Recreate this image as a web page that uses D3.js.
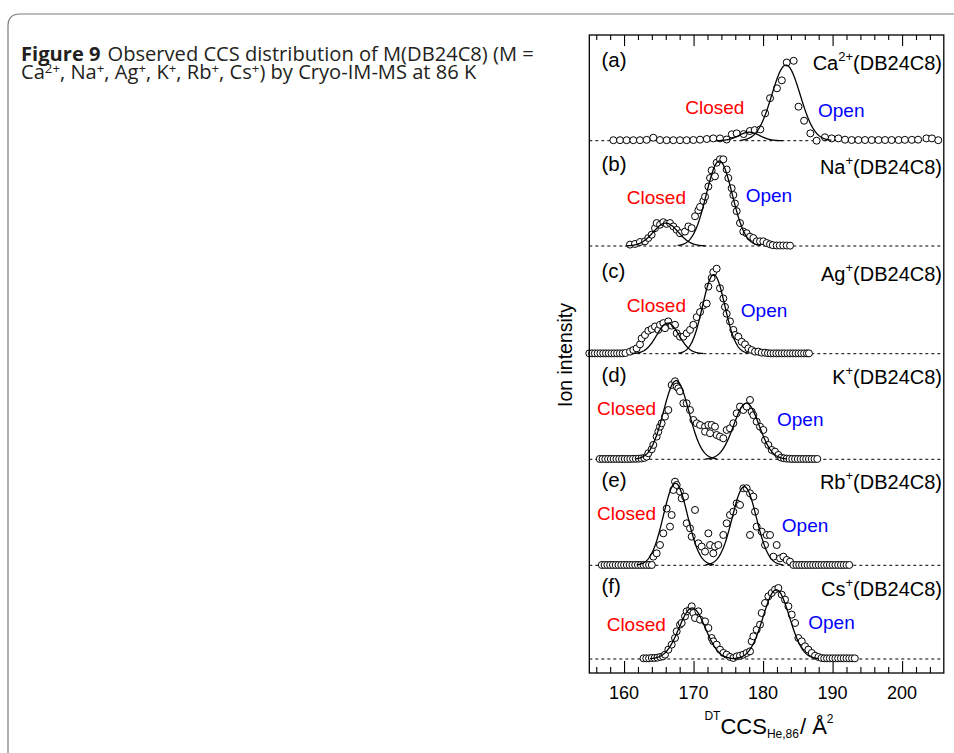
<!DOCTYPE html>
<html><head><meta charset="utf-8">
<script src="https://cdn.jsdelivr.net/npm/d3@7"></script>
<style>body{margin:0;background:#fff;} svg{display:block;}</style>
</head><body>
<svg id="chart" width="954" height="753"></svg>
<script>
// ---------------- data ----------------
const panelLetters = ["(a)","(b)","(c)","(d)","(e)","(f)"];
const ionNames = ["Ca","Na","Ag","K","Rb","Cs"];
const ionCharges = ["2+","+","+","+","+","+"];
const ccsTicks = [160,170,180,190,200];
const ccsMinorTicks = [156,158,162,164,166,168,172,174,176,178,182,184,186,188,192,194,196,198,202,204];
// Gaussian fit components: [centre CCS, height, sigma]
const closedFits = [[178.0,0.10,1.5],[166.0,0.27,1.8],[166.3,0.36,1.6],[167.5,0.925,1.83],[167.4,0.965,1.74],[169.8,0.60,1.9]];
const openFits   = [[183.3,0.89,2.04],[173.7,1.00,1.87],[172.9,0.93,1.6],[177.6,0.66,1.83],[177.3,0.925,1.74],[181.9,0.815,1.9]];
// annotation anchors in data units [CCS, intensity]
const closedLabelAt = [[168.8,0.32],[160.4,0.49],[160.4,0.487],[156.1,0.52],[156.1,0.533],[157.5,0.33]];
const openLabelAt   = [[187.9,0.275],[177.5,0.52],[176.8,0.435],[182.0,0.39],[182.7,0.395],[186.5,0.35]];

// observed points [CCS, normalised intensity]
const dataA = [[158.46,0.006],[159.42,0.006],[160.37,0.006],[161.33,0.006],[162.29,0.006],[163.25,0.01],[164.21,0.035],[165.17,0.008],[166.13,0.006],[167.09,0.006],[168.05,0.006],[169.0,0.006],[169.97,0.008],[170.93,0.012],[171.9,0.02],[172.84,0.027],[173.8,0.027],[174.76,0.014],
[175.5,0.075],[176.2,0.086],[177.2,0.078],[178.1,0.114],[178.8,0.125],[179.6,0.133],[180.3,0.322],[181.0,0.5],[182.0,0.616],[182.7,0.71],[183.4,0.92],[184.4,0.94],[185.1,0.4],[185.9,0.235],[186.8,0.086],[187.7,0.0],
[188.9,0.04],[189.87,0.027],[190.83,0.027],[191.79,0.012],[192.75,0.008],[193.71,0.008],[194.67,0.008],[195.63,0.008],[196.6,0.008],[197.55,0.008],[198.5,0.008],[199.5,0.008],[200.4,0.01],[201.4,0.01],[202.3,0.012],[203.5,0.027],[204.3,0.027],[205.2,0.006]];

const dataB = [[160.85,0.016],[161.57,0.024],[162.29,0.047],[163.01,0.055],[163.49,0.094],[163.97,0.133],[164.45,0.21],[164.69,0.27],[165.17,0.25],[165.65,0.28],[166.13,0.26],[166.61,0.27],[167.09,0.23],[167.57,0.19],[168.05,0.15],[168.77,0.17],[169.25,0.23],[169.73,0.21],[170.21,0.35],[170.69,0.42],[170.93,0.46],[171.41,0.53],[171.65,0.58],[172.13,0.70],[172.37,0.80],[172.6,0.89],[173.08,0.82],[173.32,0.98],[173.8,1.02],[174.28,1.02],[174.76,0.90],[175.0,0.80],[175.48,0.68],[175.72,0.60],[175.96,0.50],[176.2,0.41],[176.68,0.27],[177.16,0.17],[177.64,0.15],[178.12,0.11],[178.6,0.094],[179.08,0.055],[179.56,0.055],[180.04,0.055],[180.52,0.035],[181.0,0.02],[181.4,0.01],[181.96,0.006],[182.4,0.006],[182.9,0.006],[183.4,0.006],[183.88,0.004]];

const dataC = [[155.0,0.004],[155.4,0.004],[155.8,0.004],[156.2,0.004],[156.6,0.004],[157.0,0.004],[157.4,0.004],[157.8,0.004],[158.2,0.004],[158.6,0.004],[159.0,0.004],[159.4,0.004],[159.8,0.004],[160.2,0.008],
[160.85,0.024],[161.33,0.043],[161.81,0.063],[162.29,0.11],[162.53,0.18],[163.01,0.22],[163.49,0.27],[163.97,0.29],[164.45,0.32],[164.93,0.28],[165.17,0.34],[165.65,0.36],[165.89,0.30],[166.37,0.38],[166.85,0.33],[167.33,0.34],[167.57,0.24],[168.05,0.20],[168.53,0.20],[169.01,0.24],[169.49,0.28],[169.97,0.34],[170.45,0.43],[170.93,0.49],[171.41,0.57],[171.89,0.59],[172.13,0.79],[172.6,0.89],[172.84,0.96],[173.32,1.0],[173.8,0.77],[174.28,0.65],[174.52,0.55],[174.76,0.47],[175.24,0.38],[175.72,0.28],[175.96,0.22],[176.44,0.20],[176.92,0.14],[177.4,0.11],[177.88,0.063],[178.36,0.043],[178.84,0.024],[179.32,0.024],[179.8,0.012],[180.28,0.012],
[180.7,0.006],[181.1,0.004],[181.5,0.004],[181.9,0.004],[182.3,0.004],[182.7,0.004],[183.1,0.004],[183.5,0.004],[183.9,0.004],[184.3,0.004],[184.7,0.004],[185.1,0.004],[185.5,0.004],[185.9,0.004],[186.3,0.004],[186.6,0.004]];

const dataD = [[156.5,0.004],[156.9,0.004],[157.3,0.004],[157.7,0.004],[158.1,0.004],[158.5,0.004],[158.9,0.004],[159.3,0.004],[159.7,0.004],[160.1,0.004],[160.5,0.004],[160.9,0.004],[161.3,0.006],[161.7,0.006],[162.1,0.008],[162.5,0.01],[162.9,0.016],
[163.25,0.031],[163.49,0.071],[163.97,0.118],[164.21,0.169],[164.69,0.267],[164.93,0.325],[165.17,0.384],[165.41,0.424],[165.89,0.502],[166.37,0.58],[166.85,0.875],[167.33,0.918],[167.57,0.855],[167.81,0.835],[168.05,0.8],[168.53,0.659],[169.01,0.659],[169.49,0.58],[169.97,0.463],[170.45,0.424],[170.93,0.404],[171.65,0.384],[172.13,0.404],[172.6,0.404],[173.08,0.384],[171.65,0.325],[172.37,0.306],[173.32,0.286],[173.8,0.267],[174.28,0.247],[174.76,0.345],[175.24,0.365],[175.72,0.424],[176.2,0.541],[176.68,0.62],[177.16,0.58],[177.64,0.62],[178.12,0.698],[178.36,0.56],[178.6,0.52],[179.08,0.443],[179.56,0.384],[180.04,0.345],[180.28,0.227],[180.76,0.169],[181.24,0.11],[181.72,0.09],[182.2,0.051],
[182.6,0.02],[183.0,0.012],[183.4,0.008],[183.8,0.006],[184.2,0.004],[184.6,0.004],[185.0,0.004],[185.4,0.004],[185.8,0.004],[186.2,0.004],[186.6,0.004],[187.0,0.004],[187.4,0.004],[187.8,0.004]];

const dataE = [[156.8,0.004],[157.2,0.004],[157.6,0.004],[158.0,0.004],[158.4,0.004],[158.8,0.004],[159.2,0.004],[159.6,0.004],[160.0,0.004],[160.4,0.004],[160.8,0.004],[161.2,0.004],[161.6,0.004],[162.0,0.004],[162.4,0.004],[162.8,0.004],[163.2,0.004],[163.6,0.004],[164.0,0.004],
[164.21,0.102],[164.69,0.141],[165.17,0.239],[165.65,0.376],[166.13,0.667],[166.61,0.455],[166.85,0.592],[167.09,0.886],[167.33,0.984],[167.57,0.945],[168.05,0.867],[168.29,0.788],[168.77,0.808],[169.01,0.494],[169.49,0.435],[169.73,0.337],[170.21,0.651],[170.69,0.259],[171.17,0.22],[171.65,0.161],[172.13,0.376],[172.37,0.239],[172.84,0.141],[173.08,0.22],[173.56,0.239],[174.28,0.357],[174.76,0.494],[175.24,0.592],[175.72,0.631],[176.2,0.729],[176.68,0.71],[177.16,0.906],[177.64,0.906],[178.12,0.847],[178.6,0.808],[178.84,0.631],[178.12,0.357],[179.08,0.455],[179.8,0.396],[180.28,0.239],[180.52,0.357],[181.0,0.357],[181.48,0.102],[181.96,0.239],[182.44,0.082],[182.92,0.102],[183.4,0.063],[183.88,0.043],[184.36,0.004],
[184.8,0.004],[185.2,0.004],[185.6,0.004],[186.0,0.004],[186.4,0.004],[186.8,0.004],[187.2,0.004],[187.6,0.004],[188.0,0.004],[188.4,0.004],[188.8,0.004],[189.2,0.004],[189.6,0.004],[190.0,0.004],[190.4,0.004],[190.8,0.004],[191.2,0.004],[191.6,0.004],[192.0,0.004],[192.4,0.004]];

const dataF = [[162.8,0.008],[163.2,0.008],[163.6,0.008],[164.0,0.012],[164.4,0.012],[164.8,0.016],[165.2,0.024],[165.6,0.031],
[165.89,0.051],[166.37,0.11],[166.85,0.169],[167.33,0.247],[167.57,0.325],[168.05,0.404],[168.29,0.424],[168.77,0.502],[169.01,0.561],[169.49,0.58],[169.73,0.62],[169.97,0.541],[170.21,0.482],[170.69,0.561],[170.93,0.463],[171.65,0.443],[172.13,0.365],[172.6,0.247],[172.84,0.208],[173.32,0.169],[173.8,0.11],[174.28,0.071],[174.76,0.051],[175.24,0.024],[175.72,0.012],[176.2,0.031],[176.68,0.039],[177.16,0.051],[177.64,0.071],[178.12,0.09],[178.36,0.208],[178.6,0.267],[179.08,0.345],[179.56,0.404],[179.8,0.541],[180.28,0.659],[180.76,0.737],[181.24,0.776],[181.72,0.816],[182.2,0.835],[182.68,0.757],[183.16,0.698],[183.64,0.62],[184.12,0.522],[184.6,0.424],[185.08,0.247],[185.56,0.208],[186.04,0.149],[186.52,0.11],[187.0,0.071],[187.48,0.039],[187.96,0.024],
[188.4,0.012],[188.8,0.008],[189.2,0.008],[189.6,0.008],[190.0,0.008],[190.4,0.008],[190.8,0.008],[191.2,0.008],[191.6,0.008],[192.0,0.008],[192.4,0.008],[192.8,0.008],[193.2,0.008]];

const panelData = [dataA, dataB, dataC, dataD, dataE, dataF];

// ---------------- layout ----------------
const plot = {left: 589.3, right: 943.8, top: 35, bottom: 673};
const baseY = [140.7, 246, 353.7, 459.3, 565.3, 659];  // pixel y of zero intensity per panel
const unitPx = 85;                                       // pixels per unit intensity
const letterY = [67, 171, 278.3, 381.7, 486.7, 593.3];
const FONT = "'Liberation Sans', Arial, sans-serif";

const svg = d3.select("#chart");

// outer figure frame
svg.append("path")
  .attr("d", "M8,760 L8,26 Q8,14 20,14 L970,14")
  .attr("fill", "none").attr("stroke", "#7a7a7a").attr("stroke-width", 1.2);

// caption
const cap = svg.append("g").attr("font-family", "'Open Sans', 'Noto Sans', sans-serif").attr("fill", "#231f20");
const line1 = cap.append("text").attr("x", 21).attr("y", 60.5).attr("font-size", 15);
line1.append("tspan").attr("font-weight", "bold").text("Figure 9");
line1.append("tspan").attr("dx", 7).text("Observed CCS distribution of M(DB24C8) (M =");
const line2 = cap.append("text").attr("x", 21).attr("y", 78.5).attr("font-size", 15);
const capParts = ["Ca", ", Na", ", Ag", ", K", ", Rb", ", Cs"];
const capSups = ["2+", "+", "+", "+", "+", "+"];
capParts.forEach((t, k) => {
  line2.append("tspan").attr("dy", k === 0 ? 0 : 5.5).text(t);
  line2.append("tspan").attr("dy", -5.5).attr("font-size", "0.66em").text(capSups[k]);
});
line2.append("tspan").attr("dy", 5.5).text(") by Cryo-IM-MS at 86 K");
// fit caption width to reference
const w1 = line1.node().getComputedTextLength();
const fs = 15 * 506 / w1;
line1.attr("font-size", fs);
line2.attr("font-size", fs);

// scales
const x = d3.scaleLinear().domain([155, 206]).range([plot.left, plot.right]);
const yScales = baseY.map(b => d3.scaleLinear().domain([0, 1]).range([b, b - unitPx]));

// axes ticks (inward)
const gAx = svg.append("g").attr("stroke-width", 1);
gAx.append("g").attr("transform", `translate(0,${plot.bottom})`)
  .call(d3.axisBottom(x).tickValues(ccsTicks).tickSize(-12).tickSizeOuter(0).tickFormat(""));
gAx.append("g").attr("transform", `translate(0,${plot.bottom})`)
  .call(d3.axisBottom(x).tickValues(ccsMinorTicks).tickSize(-6).tickSizeOuter(0).tickFormat(""));
gAx.append("g").attr("transform", `translate(0,${plot.top})`)
  .call(d3.axisTop(x).tickValues(ccsTicks).tickSize(-11).tickSizeOuter(0).tickFormat(""));
gAx.append("g").attr("transform", `translate(0,${plot.top})`)
  .call(d3.axisTop(x).tickValues(ccsMinorTicks).tickSize(-5).tickSizeOuter(0).tickFormat(""));
gAx.selectAll(".domain").remove();
gAx.selectAll(".tick line").attr("stroke", "#000").attr("stroke-width", 1.1);

// tick labels
svg.append("g").selectAll("text").data(ccsTicks).join("text")
  .attr("x", d => x(d)).attr("y", 698.5)
  .attr("text-anchor", "middle").attr("font-family", FONT).attr("font-size", 18)
  .text(d => d);

// panels
const line = d3.line().x(d => x(d[0]));
panelData.forEach((data, i) => {
  const y = yScales[i];
  const g = svg.append("g");
  // dotted zero line
  g.append("line").attr("x1", x(155)).attr("x2", x(206))
    .attr("y1", y(0)).attr("y2", y(0))
    .attr("stroke", "#000").attr("stroke-width", 1).attr("stroke-dasharray", "3,3");
  // points
  g.append("g").selectAll("circle").data(data).join("circle")
    .attr("cx", d => x(d[0])).attr("cy", d => y(d[1])).attr("r", 3.5)
    .attr("fill", "#fff").attr("stroke", "#000").attr("stroke-width", 1);
  // fitted gaussian components
  [closedFits[i], openFits[i]].forEach(([c, a, s]) => {
    const pts = d3.range(c - 3.2 * s, c + 3.2 * s + 0.001, 0.05)
      .map(v => [v, a * Math.exp(-0.5 * ((v - c) / s) ** 2)]);
    g.append("path").attr("d", line.y(d => y(d[1]))(pts))
      .attr("fill", "none").attr("stroke", "#000").attr("stroke-width", 1.3);
  });
  // labels
  g.append("text").attr("x", 601.5).attr("y", letterY[i])
    .attr("font-family", FONT).attr("font-size", 20.5).text(panelLetters[i]);
  const ion = g.append("text").attr("x", 942).attr("y", letterY[i] + 2.5)
    .attr("text-anchor", "end").attr("font-family", FONT).attr("font-size", 20);
  ion.append("tspan").text(ionNames[i]);
  ion.append("tspan").attr("dy", -9).attr("font-size", 13).text(ionCharges[i]);
  ion.append("tspan").attr("dy", 9).text("(DB24C8)");
  g.append("text").attr("x", x(closedLabelAt[i][0])).attr("y", y(closedLabelAt[i][1]))
    .attr("font-family", FONT).attr("font-size", 19).attr("fill", "#ff0000").text("Closed");
  g.append("text").attr("x", x(openLabelAt[i][0])).attr("y", y(openLabelAt[i][1]))
    .attr("font-family", FONT).attr("font-size", 19).attr("fill", "#0000ff").text("Open");
});

// plot frame
svg.append("rect").attr("x", plot.left).attr("y", plot.top)
  .attr("width", plot.right - plot.left).attr("height", plot.bottom - plot.top)
  .attr("fill", "none").attr("stroke", "#000").attr("stroke-width", 1.3);

// axis titles
const xt = svg.append("text").attr("x", 769).attr("y", 733.5).attr("text-anchor", "middle")
  .attr("font-family", FONT).attr("font-size", 22);
xt.append("tspan").attr("font-size", 12).attr("dy", -14).text("DT");
xt.append("tspan").attr("dy", 14).text("CCS");
xt.append("tspan").attr("font-size", 12).attr("dy", 4).text("He,86");
xt.append("tspan").attr("dy", -4).attr("dx", 1).text("/ Å");
xt.append("tspan").attr("font-size", 12).attr("dy", -11).text("2");

svg.append("text").attr("transform", "translate(572,355) rotate(-90)")
  .attr("text-anchor", "middle").attr("font-family", FONT).attr("font-size", 19.5)
  .text("Ion intensity");
</script>
</body></html>
